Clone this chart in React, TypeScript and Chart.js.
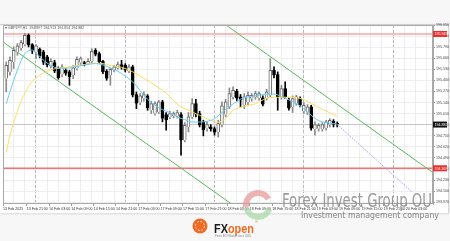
import React, { useEffect, useRef } from 'react';
import { Chart, registerables } from 'chart.js';
Chart.register(...registerables);

// ---------- DATA ----------
const symbolHeader = 'GBPJPY,H1  194.897 194.913 194.854 194.882';

const opens = [
  195.421, 195.500, 195.617, 195.734, 195.781, 195.820, 195.930, 195.820, 195.734, 195.765,
  195.734, 195.676, 195.570, 195.609, 195.539, 195.468, 195.519, 195.500, 195.460, 195.539,
  195.609, 195.609, 195.597, 195.625, 195.754, 195.715, 195.625, 195.507, 195.460, 195.519,
  195.547, 195.586, 195.578, 195.507, 195.558, 195.234, 195.140, 195.187, 195.218, 195.050,
  195.011, 195.030, 195.148, 194.999, 194.972, 194.983, 194.983, 194.999, 194.698, 194.854,
  194.972, 195.128, 195.011, 194.913, 194.835, 194.854, 194.835, 194.796, 194.882, 194.999,
  195.089, 195.206, 195.273, 195.206, 195.109, 195.148, 195.187, 195.206, 195.195, 195.195,
  195.195, 195.226, 195.519, 195.468, 195.206, 195.304, 195.167, 195.089, 195.128, 195.187,
  195.038, 195.023, 195.089, 194.827, 194.835, 194.827, 194.843, 194.882, 194.921, 194.897,
];
const highs = [
  195.617, 195.676, 195.793, 195.832, 195.871, 195.949, 195.945, 195.832, 195.820, 195.781,
  195.754, 195.695, 195.656, 195.636, 195.558, 195.586, 195.539, 195.519, 195.578, 195.676,
  195.676, 195.625, 195.656, 195.773, 195.773, 195.734, 195.636, 195.527, 195.547, 195.578,
  195.617, 195.636, 195.597, 195.586, 195.578, 195.265, 195.245, 195.265, 195.234, 195.156,
  195.148, 195.167, 195.167, 195.023, 195.038, 195.030, 195.050, 195.023, 194.905, 195.023,
  195.187, 195.179, 195.038, 194.933, 194.913, 194.882, 194.854, 194.933, 195.148, 195.179,
  195.312, 195.324, 195.296, 195.234, 195.245, 195.265, 195.245, 195.273, 195.265, 195.218,
  195.296, 195.656, 195.558, 195.500, 195.343, 195.382, 195.195, 195.218, 195.226, 195.206,
  195.140, 195.116, 195.109, 194.913, 194.894, 194.905, 194.933, 194.952, 194.940, 194.913,
];
const lows = [
  195.265, 195.460, 195.539, 195.695, 195.754, 195.805, 195.793, 195.715, 195.656, 195.664,
  195.586, 195.558, 195.547, 195.492, 195.414, 195.441, 195.460, 195.343, 195.421, 195.519,
  195.578, 195.570, 195.586, 195.609, 195.687, 195.597, 195.480, 195.402, 195.343, 195.500,
  195.531, 195.531, 195.500, 195.492, 195.206, 195.069, 195.116, 195.156, 195.050, 195.011,
  194.991, 195.011, 194.913, 194.815, 194.952, 194.960, 194.960, 194.522, 194.678, 194.796,
  194.952, 194.972, 194.854, 194.749, 194.804, 194.804, 194.757, 194.737, 194.854, 194.972,
  195.069, 195.179, 195.156, 195.089, 195.069, 195.116, 195.156, 195.179, 195.167, 195.101,
  195.167, 195.206, 195.429, 195.050, 195.179, 195.187, 195.050, 195.023, 195.109, 195.089,
  195.011, 194.999, 194.815, 194.757, 194.804, 194.804, 194.815, 194.854, 194.854, 194.854,
];
const closes = [
  195.578, 195.636, 195.754, 195.805, 195.844, 195.930, 195.812, 195.742, 195.805, 195.687,
  195.609, 195.578, 195.625, 195.507, 195.429, 195.558, 195.480, 195.441, 195.547, 195.648,
  195.656, 195.586, 195.625, 195.742, 195.703, 195.617, 195.500, 195.421, 195.531, 195.558,
  195.586, 195.547, 195.519, 195.558, 195.226, 195.128, 195.218, 195.234, 195.077, 195.128,
  195.128, 195.148, 194.952, 194.933, 195.011, 195.011, 195.023, 194.698, 194.874, 194.972,
  195.128, 194.999, 194.874, 194.815, 194.882, 194.827, 194.788, 194.894, 195.101, 195.148,
  195.245, 195.285, 195.187, 195.167, 195.206, 195.226, 195.226, 195.245, 195.245, 195.116,
  195.265, 195.519, 195.460, 195.206, 195.304, 195.206, 195.069, 195.187, 195.206, 195.109,
  195.109, 195.089, 194.835, 194.882, 194.874, 194.882, 194.913, 194.933, 194.882, 194.882,
];

// fast MA (cyan) read at candle indices
const fastMaIdx = [0, 2, 4, 5, 6, 7, 8, 10, 12, 14, 16, 18, 20, 22, 24, 26, 28, 30, 32, 34, 35, 36, 38, 40, 42, 44, 46, 48, 50, 52, 54, 56, 58, 60, 62, 64, 66, 68, 70, 72, 74, 76, 78, 80, 82, 84, 86, 88, 89];
const fastMaVals = [195.127, 195.400, 195.630, 195.714, 195.749, 195.757, 195.726, 195.636, 195.577, 195.542, 195.542, 195.554, 195.573, 195.589, 195.597, 195.581, 195.546, 195.507, 195.452, 195.382, 195.335, 195.280, 195.178, 195.108, 195.057, 195.022, 194.971, 194.940, 194.912, 194.912, 194.920, 194.951, 195.022, 195.092, 195.155, 195.198, 195.214, 195.225, 195.241, 195.241, 195.210, 195.171, 195.127, 195.069, 194.991, 194.928, 194.905, 194.893, 194.889];

// slow MA (yellow) read at candle indices
const slowMaIdx = [0, 1, 2, 3, 4, 5, 6, 7, 9, 11, 13, 16, 19, 22, 25, 28, 31, 34, 37, 40, 43, 46, 49, 52, 55, 57, 59, 61, 64, 67, 70, 73, 76, 79, 82, 85, 88, 89];
const slowMaVals = [194.556, 194.756, 194.908, 195.037, 195.155, 195.249, 195.331, 195.389, 195.460, 195.507, 195.536, 195.554, 195.571, 195.595, 195.601, 195.577, 195.554, 195.501, 195.425, 195.343, 195.249, 195.120, 195.049, 194.990, 194.932, 194.908, 194.955, 195.049, 195.096, 195.126, 195.190, 195.202, 195.202, 195.190, 195.131, 195.061, 195.002, 194.979];

// trend channel (green), projection (lavender), levels (red)
const channelLow = { idx: [-0.87, 61.75], price: [195.851, 193.914] };
const channelHigh = { idx: [56.13, 114.75], price: [196.142, 194.317] };
const projection = { idx: [89, 109.1], price: [194.882, 194.091] };
const resistanceLevel = 195.945;
const supportLevel = 194.369;
const bidPrice = 194.882;

const priceTicks = [196.050, 195.920, 195.790, 195.660, 195.530, 195.400, 195.270, 195.140, 195.010, 194.880, 194.750, 194.620, 194.490, 194.360, 194.230, 194.100, 193.970];
const dayStartIdx = [8, 32, 56, 80, 104];
const timeLabelIdx = [-0.87, 5.5, 11.5, 17.5, 23.5, 29.5, 35.5, 41.5, 47.5, 53.5, 59.5, 65.5, 71.5, 77.5, 83.5, 89.5, 95.5, 101.5, 107.5];
const timeLabels = ['13 Feb 2025', '13 Feb 21:00', '14 Feb 03:00', '14 Feb 09:00', '14 Feb 15:00', '14 Feb 21:00', '17 Feb 03:00', '17 Feb 09:00', '17 Feb 15:00', '17 Feb 21:00', '18 Feb 03:00', '18 Feb 09:00', '18 Feb 15:00', '18 Feb 21:00', '19 Feb 03:00', '19 Feb 09:00', '19 Feb 15:00', '19 Feb 21:00', '20 Feb 03:00'];

const X_MIN = -0.87;
const X_MAX = 114.75;
const Y_MIN = 193.95;
const Y_MAX = 196.05;
const FONT = '"Liberation Sans", Arial, sans-serif';

const gridIdx: number[] = [];
for (let v = 2; v <= 113; v += 3) gridIdx.push(v);

const extrasPlugin = {
  id: 'extras',
  afterDraw(chart: any) {
    const { ctx, chartArea, scales } = chart;
    const { left, top, right, bottom } = chartArea;
    const y = scales.y;
    ctx.save();
    ctx.strokeStyle = '#a9a9a9';
    ctx.lineWidth = 1;
    ctx.strokeRect(Math.round(left) + 0.5, Math.round(top) + 0.5, Math.round(right - left) - 1, Math.round(bottom - top) - 1);
    ctx.font = '3.6px ' + FONT;
    ctx.fillStyle = '#555';
    ctx.textBaseline = 'top';
    ctx.textAlign = 'left';
    ctx.fillText('\u25BE ' + symbolHeader, left + 2, top + 1.2);
    const tag = (price: number, bg: string) => {
      const py = y.getPixelForValue(price);
      ctx.fillStyle = bg;
      ctx.fillRect(right, py - 3, 14, 6);
      ctx.fillStyle = '#ffffff';
      ctx.textBaseline = 'middle';
      ctx.fillText(price.toFixed(3), right + 1.5, py + 0.3);
    };
    tag(resistanceLevel, '#ee2b2b');
    tag(supportLevel, '#ee2b2b');
    tag(bidPrice, '#111111');
    ctx.restore();
  },
};

export default function App() {
  const ref = useRef<HTMLCanvasElement>(null);
  useEffect(() => {
    const bull = opens.map((o, i) => closes[i] >= o);
    const wickData = highs.map((h, i) => ({ x: i, y: [lows[i], h] }));
    const bodyData = opens.map((o, i) => ({ x: i, y: [o, closes[i]] }));
    const line = (xs: number[], ys: number[]) => xs.map((x, i) => ({ x, y: ys[i] }));
    const flat = (p: number) => [{ x: X_MIN, y: p }, { x: X_MAX, y: p }];

    const chart = new Chart(ref.current as HTMLCanvasElement, {
      type: 'line',
      data: {
        datasets: [
          { type: 'line', data: line(fastMaIdx, fastMaVals), borderColor: '#66ccf2', borderWidth: 1, pointRadius: 0, cubicInterpolationMode: 'monotone', order: 0 } as any,
          { type: 'line', data: line(slowMaIdx, slowMaVals), borderColor: '#ffdd5e', borderWidth: 1, pointRadius: 0, cubicInterpolationMode: 'monotone', order: 0 } as any,
          { type: 'line', data: line(projection.idx, projection.price), borderColor: '#a8a8f4', borderWidth: 1, borderDash: [1.5, 1], pointRadius: 0, order: 0 } as any,
          { type: 'bar', data: bodyData, backgroundColor: bull.map(b => (b ? '#ffffff' : '#000000')), borderColor: bull.map(b => (b ? '#6a6a6a' : '#000000')), borderWidth: 1, barThickness: 3, grouped: false, minBarLength: 1, order: 1 } as any,
          { type: 'bar', data: wickData, backgroundColor: bull.map(b => (b ? '#8a8a8a' : '#000000')), borderWidth: 0, barThickness: 1, grouped: false, order: 2 } as any,
          { type: 'line', data: line(channelLow.idx, channelLow.price), borderColor: '#5cb85c', borderWidth: 1, pointRadius: 0, order: 3 } as any,
          { type: 'line', data: line(channelHigh.idx, channelHigh.price), borderColor: '#5cb85c', borderWidth: 1, pointRadius: 0, order: 3 } as any,
          { type: 'line', data: flat(resistanceLevel), borderColor: '#ffb9b9', borderWidth: 2, pointRadius: 0, order: 4 } as any,
          { type: 'line', data: flat(supportLevel), borderColor: '#f27373', borderWidth: 1.5, pointRadius: 0, order: 4 } as any,
          { type: 'line', data: flat(bidPrice), borderColor: '#c4c4c4', borderWidth: 1, pointRadius: 0, order: 5 } as any,
        ],
      },
      options: {
        responsive: false,
        animation: false,
        devicePixelRatio: 1,
        layout: { padding: { left: 3, top: 25, right: 0, bottom: 28 } },
        plugins: { legend: { display: false }, tooltip: { enabled: false } },
        scales: {
          x: {
            type: 'linear', min: X_MIN, max: X_MAX, position: 'bottom', offset: false,
            afterBuildTicks: (s: any) => { s.ticks = gridIdx.map(v => ({ value: v })); },
            afterFit: (s: any) => { s.height = 0; },
            ticks: { display: false },
            grid: { color: '#eeeeee', drawTicks: false, offset: false },
            border: { display: false },
          },
          xsep: {
            type: 'linear', min: X_MIN, max: X_MAX, position: 'bottom', offset: false,
            afterBuildTicks: (s: any) => { s.ticks = dayStartIdx.map(v => ({ value: v })); },
            afterFit: (s: any) => { s.height = 0; },
            ticks: { display: false },
            grid: { color: '#b9b9b9', drawTicks: false, offset: false },
            border: { display: false, dash: [3, 2] },
          },
          xlab: {
            type: 'linear', min: X_MIN, max: X_MAX, position: 'bottom', offset: false,
            afterBuildTicks: (s: any) => { s.ticks = timeLabelIdx.map(v => ({ value: v })); },
            afterFit: (s: any) => { s.height = 9; },
            ticks: {
              callback: (_v: any, i: number) => timeLabels[i],
              align: 'start', maxRotation: 0, minRotation: 0, autoSkip: false, padding: 1,
              font: { size: 3.6, family: FONT }, color: '#333',
            },
            grid: { drawOnChartArea: false, tickLength: 2, color: '#999', offset: false },
            border: { display: false },
          },
          y: {
            type: 'linear', position: 'right', min: Y_MIN, max: Y_MAX,
            afterBuildTicks: (s: any) => { s.ticks = priceTicks.map(v => ({ value: v })); },
            afterFit: (s: any) => { s.width = 17; },
            ticks: {
              callback: (v: any) => Number(v).toFixed(3), autoSkip: false, padding: 1,
              font: { size: 3.6, family: FONT }, color: '#444',
            },
            grid: { color: '#eeeeee', tickLength: 2, tickColor: '#999' },
            border: { color: '#a9a9a9' },
          },
        },
      } as any,
      plugins: [extrasPlugin],
    });
    return () => chart.destroy();
  }, []);

  return (
    <div style={{ position: 'fixed', left: 0, top: 0, width: 450, height: 241, background: '#f7f7f7', overflow: 'hidden' }}>
      <div style={{ position: 'absolute', left: 0, top: 24, width: 448, height: 188, background: '#ffffff', borderTop: '1px solid #cfcfcf', borderRight: '1px solid #d6d6d6', boxShadow: '0 1px 2px rgba(0,0,0,0.12)' }} />
      <canvas ref={ref} width={450} height={241} style={{ position: 'absolute', left: 0, top: 0, width: 450, height: 241 }} />
      <svg width={450} height={241} style={{ position: 'absolute', left: 0, top: 0, pointerEvents: 'none' }}>
        <g opacity={0.75}>
          <path d="M 246.2 207.1 A 12 12 0 0 1 268.4 199" fill="none" stroke="#e79a9a" strokeWidth={6} />
          <path d="M 269.3 209.1 A 12 12 0 0 1 246.7 209.1" fill="none" stroke="#a8d8a8" strokeWidth={6} />
        </g>
        <text x={282} y={207} fontSize={19} fontFamily='"DejaVu Sans Condensed", "DejaVu Sans", sans-serif' fill="#8a8a8a" fillOpacity={0.85} textLength={150} lengthAdjust="spacingAndGlyphs">Forex Invest Group OU</text>
        <text x={301} y={218} fontSize={8.5} fontFamily='"DejaVu Sans", sans-serif' fill="#858585" textLength={138} lengthAdjust="spacingAndGlyphs">Investment management company</text>
        <circle cx={200} cy={226} r={7.5} fill="#f26a22" />
        <circle cx={200} cy={226} r={4.5} fill="none" stroke="#ffffff" strokeWidth={0.8} strokeDasharray="2 1.5" />
        <text x={214} y={232.5} fontSize={12.5} fontWeight={700} fontFamily='"Liberation Sans", Arial, sans-serif' textLength={40} lengthAdjust="spacingAndGlyphs"><tspan fill="#1a1a1a">FX</tspan><tspan fill="#f26a22">open</tspan></text>
        <text x={255} y={223} fontSize={4} fill="#f26a22" fontFamily='"Liberation Sans", Arial, sans-serif'>®</text>
        <text x={215} y={237} fontSize={2.6} fill="#888" fontFamily='"Liberation Sans", Arial, sans-serif' textLength={36} lengthAdjust="spacingAndGlyphs">Forex ECN Broker since 2005</text>
      </svg>
    </div>
  );
}
